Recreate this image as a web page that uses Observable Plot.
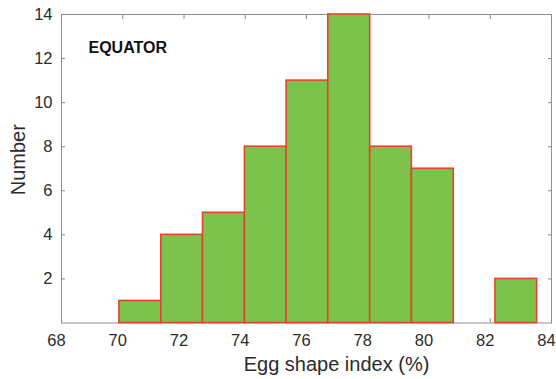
<!DOCTYPE html>
<html><head><meta charset="utf-8">
<script src="https://cdn.jsdelivr.net/npm/d3@7"></script>
<script src="https://cdn.jsdelivr.net/npm/@observablehq/plot@0.6"></script>
<style>body{margin:0;background:#fff;} #chart svg{display:block;}</style>
</head><body><div id="chart"></div>
<script>
const binStart = [69.89, 71.26, 72.62, 73.99, 75.35, 76.71, 78.08, 79.44, 80.81, 82.17];
const binEnd   = [71.26, 72.62, 73.99, 75.35, 76.71, 78.08, 79.44, 80.81, 82.17, 83.53];
const counts   = [1, 4, 5, 8, 11, 14, 8, 7, 0, 2];
const xTicks = [68, 70, 72, 74, 76, 78, 80, 82, 84];
const yTicks = [2, 4, 6, 8, 10, 12, 14];
const xTitle = "Egg shape index (%)";
const yTitle = "Number";
const panelLabel = "EQUATOR";

const bins = counts.map((c, i) => ({x1: binStart[i], x2: binEnd[i], count: c}));
const tickColor = "#7d8a96";
const textColor = "#2b2b2b";

const chart = Plot.plot({
  width: 556,
  height: 379,
  marginLeft: 61,
  marginRight: 5,
  marginTop: 14,
  marginBottom: 56.5,
  style: {fontFamily: "'Liberation Sans', Arial, sans-serif", background: "#fff"},
  x: {domain: [68, 84]},
  y: {domain: [0, 14]},
  marks: [
    Plot.frame({stroke: "#8f8f8f", strokeWidth: 1}),
    Plot.axisX(xTicks, {anchor: "bottom", tickSize: -4, tickFormat: () => "", stroke: tickColor, label: null}),
    Plot.axisX(xTicks, {anchor: "top", tickSize: -4, tickFormat: () => "", stroke: tickColor, label: null}),
    Plot.axisY(yTicks, {anchor: "left", tickSize: -4, tickFormat: () => "", stroke: tickColor, label: null}),
    Plot.axisY(yTicks, {anchor: "right", tickSize: -4, tickFormat: () => "", stroke: tickColor, label: null}),
    Plot.rectY(bins, {x1: "x1", x2: "x2", y: "count", fill: "#7dc24b", stroke: "#e2452f", strokeWidth: 1.6}),
    Plot.axisX(xTicks, {anchor: "bottom", tickSize: 0, tickPadding: 11, dx: -5, fontSize: 16.5, fill: textColor, label: null}),
    Plot.axisY(yTicks, {anchor: "left", tickSize: 0, tickPadding: 9, fontSize: 16.5, fill: textColor, label: null}),
    Plot.text([xTitle], {frameAnchor: "bottom", lineAnchor: "middle", textAnchor: "middle", dx: 30, dy: 42, fontSize: 20, fill: textColor}),
    Plot.text([yTitle], {frameAnchor: "left", lineAnchor: "middle", textAnchor: "middle", rotate: -90, dx: -43, dy: -9, fontSize: 20, fill: textColor}),
    Plot.text([panelLabel], {frameAnchor: "top-left", lineAnchor: "middle", textAnchor: "start", dx: 27, dy: 33, fontSize: 16, fontWeight: "bold", fill: "#111"})
  ]
});
document.getElementById("chart").appendChild(chart);
</script>
</body></html>
